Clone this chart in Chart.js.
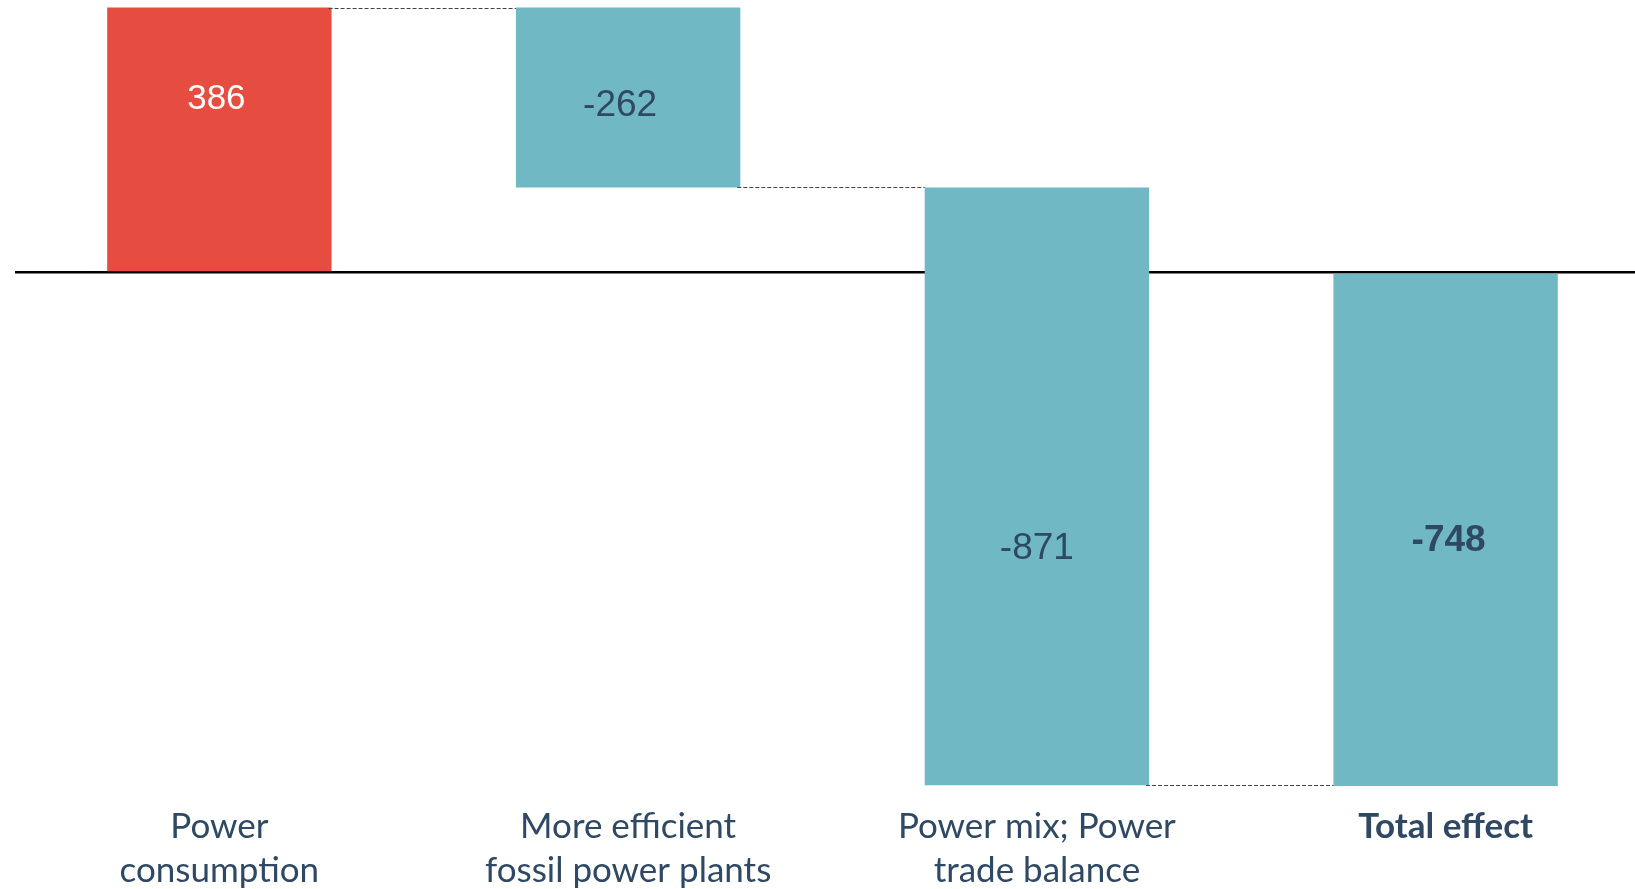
<!DOCTYPE html>
<html>
<head>
<meta charset="utf-8">
<script src="https://cdn.jsdelivr.net/npm/chart.js@4/dist/chart.umd.min.js"></script>
<style>
  html, body { margin: 0; padding: 0; background: #ffffff; overflow: hidden; }
  #wrap { position: relative; width: 1650px; height: 911px; }
</style>
</head>
<body>
<div id="wrap"><canvas id="chart"></canvas></div>
<script>
// Waterfall: contributions to the total effect
const categories = [
  ["Power", "consumption"],
  ["More efficient", "fossil power plants"],
  ["Power mix; Power", "trade balance"],
  ["Total effect"]
];
const changes = [386, -262, -871];
const totalEffect = -748;
const valueLabels = ["386", "-262", "-871", "-748"];

// y-axis extent
const yMin = -749.5;
const yMax = 397;

// label placement inside each bar (fraction of bar height from its top) and small x shifts
const labelAnchor = [0.347, 0.548, 0.605, 0.521];
const labelShift = [-3, -8, 0, 3];

const RED = '#E74C41';
const TEAL = '#6FB8C4';
const NAVY = '#2F4863';

// floating ranges [start, end] for each step, then the total from zero
const ranges = [];
let running = 0;
changes.forEach(v => {
  ranges.push([running, running + v]);
  running += v;
});
ranges.push([0, totalEffect]);

const barColors = [...changes, totalEffect].map((v, i) =>
  i < changes.length && v > 0 ? RED : TEAL);

// dashed connectors between consecutive bars
const connectorPlugin = {
  id: 'connectors',
  afterDatasetsDraw(chart) {
    const meta = chart.getDatasetMeta(0);
    const y = chart.scales.y;
    const ctx = chart.ctx;
    ctx.save();
    ctx.strokeStyle = '#444444';
    ctx.lineWidth = 1;
    ctx.setLineDash([4, 2]);
    for (let i = 0; i < meta.data.length - 1; i++) {
      const a = meta.data[i], b = meta.data[i + 1];
      const level = ranges[i][1];
      const py = Math.round(y.getPixelForValue(level)) + 0.5;
      ctx.beginPath();
      ctx.moveTo(a.x + a.width / 2 - 3, py);
      ctx.lineTo(b.x - b.width / 2, py);
      ctx.stroke();
    }
    ctx.restore();
  }
};

// value labels inside the bars
const valueLabelPlugin = {
  id: 'valueLabels',
  afterDatasetsDraw(chart) {
    const meta = chart.getDatasetMeta(0);
    const ctx = chart.ctx;
    ctx.save();
    ctx.textAlign = 'center';
    ctx.textBaseline = 'middle';
    meta.data.forEach((bar, i) => {
      const top = Math.min(bar.y, bar.base);
      const bottom = Math.max(bar.y, bar.base);
      const py = top + labelAnchor[i] * (bottom - top);
      const isTotal = i === meta.data.length - 1;
      const positive = barColors[i] === RED;
      ctx.fillStyle = positive ? '#ffffff' : NAVY;
      ctx.font = (isTotal ? 'bold ' : '') + (positive ? 35 : 37) + 'px "Liberation Sans", Arial, sans-serif';
      ctx.fillText(valueLabels[i], bar.x + labelShift[i], py);
    });
    ctx.restore();
  }
};

new Chart(document.getElementById('chart'), {
  type: 'bar',
  data: {
    labels: categories,
    datasets: [{
      data: ranges,
      backgroundColor: barColors,
      borderWidth: 0,
      barPercentage: 1,
      categoryPercentage: 0.549,
      clip: false
    }]
  },
  options: {
    responsive: true,
    maintainAspectRatio: false,
    animation: false,
    devicePixelRatio: 1,
    layout: { padding: { left: 15, right: 0, top: 0, bottom: 0 } },
    plugins: {
      legend: { display: false },
      tooltip: { enabled: false }
    },
    scales: {
      x: {
        grid: { display: false, drawTicks: false },
        border: { display: false },
        ticks: {
          autoSkip: false,
          maxRotation: 0,
          minRotation: 0,
          padding: 18,
          color: NAVY,
          font: (c) => ({
            family: 'Lato, "Open Sans", sans-serif',
            size: 35,
            weight: c.index === categories.length - 1 ? 'bold' : 'normal',
            lineHeight: '44px'
          })
        }
      },
      y: {
        min: yMin,
        max: yMax,
        ticks: { display: false, stepSize: 100 },
        border: { display: false },
        grid: {
          drawTicks: false,
          lineWidth: 2.5,
          color: (c) => (c.tick && c.tick.value === 0 ? '#000000' : 'rgba(0,0,0,0)')
        }
      }
    }
  },
  plugins: [connectorPlugin, valueLabelPlugin]
});
</script>
</body>
</html>
